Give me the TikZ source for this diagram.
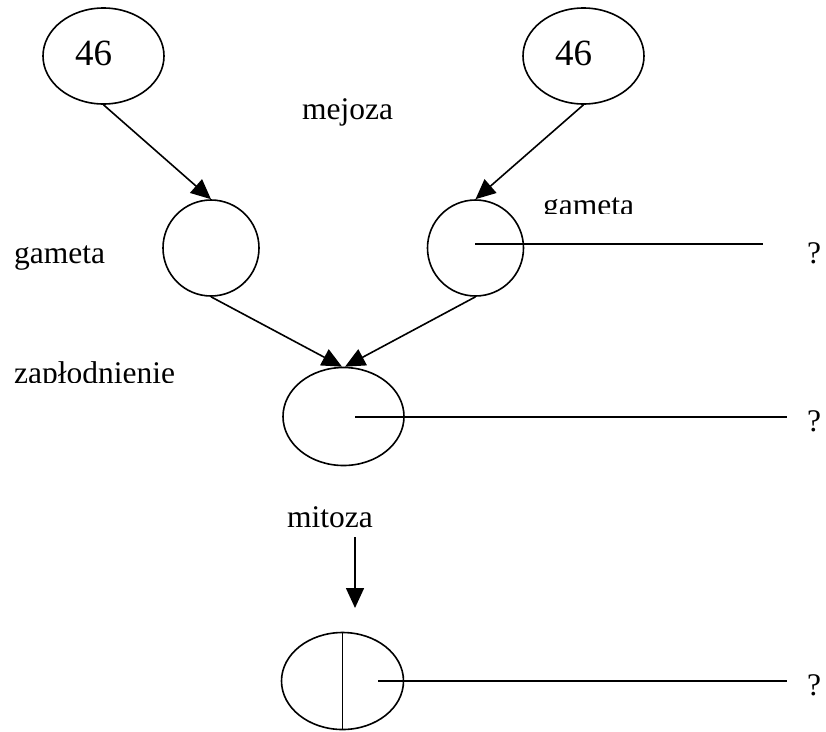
\documentclass[tikz,border=0pt]{standalone}
\usepackage{fontspec}
\setmainfont{Liberation Serif}
\usetikzlibrary{shapes.geometric,arrows.meta}
\begin{document}
\begin{tikzpicture}[x=1pt,y=-1pt,
  cell/.style={draw,ellipse,line width=1.6pt,inner sep=0pt},
  lbl/.style={inner sep=0pt,anchor=base west,font=\fontsize{31.5}{36}\selectfont},
  big/.style={inner sep=0pt,anchor=base,font=\fontsize{37}{42}\selectfont},
  conn/.style={line width=1.6pt},
  arr/.style={conn,-{Triangle[length=20pt,width=18pt]}}]
\useasboundingbox (0,0) rectangle (826,731);
% cells
\node[cell,minimum width=121pt,minimum height=96pt] (tl) at (103.5,56) {};
\node[cell,minimum width=121pt,minimum height=96pt] (tr) at (583.5,56) {};
\node[cell,minimum width=96pt,minimum height=96pt] (ml) at (211,248) {};
\node[cell,minimum width=96pt,minimum height=96pt] (mr) at (475.5,248) {};
\node[cell,minimum width=121pt,minimum height=98pt] (mid) at (343.5,416.5) {};
\node[cell,minimum width=122pt,minimum height=97pt] (bot) at (342.5,681) {};
% numbers
\node[big] (n1) at (93.5,65) {46};
\node[big] (n2) at (573.5,65) {46};
% labels
\node[lbl] (mej) at (302,119) {mejoza};
\node[lbl] (gl) at (14,263) {gameta};
\begin{scope}
\clip (530,185) rectangle (650,213);
\node[lbl] (gr) at (543,215) {gameta};
\end{scope}
\begin{scope}
\clip (5,350) rectangle (190,382);
\node[lbl] (zap) at (14,383) {zapłodnienie};
\end{scope}
\node[lbl] (mit) at (287,527) {mitoza};
\node[lbl] (q1) at (807,263) {?};
\node[lbl] (q2) at (807,431) {?};
\node[lbl] (q3) at (807,695) {?};
% arrows
\draw[arr] (tl.south) -- (ml.north);
\draw[arr] (tr.south) -- (mr.north);
\draw[arr] (ml.south) -- ([xshift=-1.5pt]mid.north);
\draw[arr] (mr.south) -- ([xshift=1.5pt]mid.north);
\coordinate (ms) at (355,537);
\coordinate (me) at (355,608);
\draw[arr] (ms) -- (me);
% pointer lines
\coordinate (p1a) at (475,244);
\coordinate (p1b) at (763,244);
\coordinate (p2a) at (355,417);
\coordinate (p2b) at (787,417);
\coordinate (p3a) at (378,681);
\coordinate (p3b) at (787,681);
\draw[conn] (p1a) -- (p1b);
\draw[conn] (p2a) -- (p2b);
\draw[conn] (p3a) -- (p3b);
\draw[conn] (bot.north) -- (bot.south);
\end{tikzpicture}
\end{document}
